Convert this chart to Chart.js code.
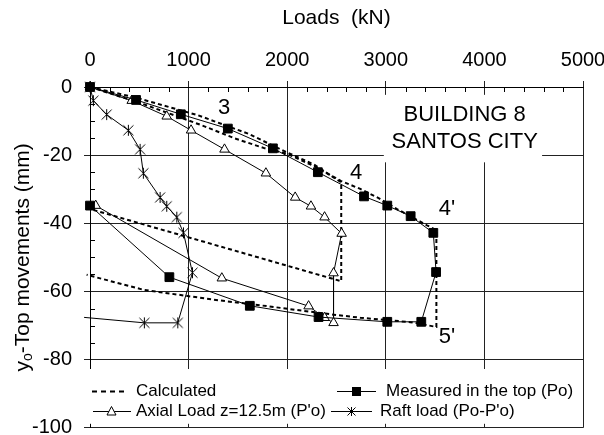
<!DOCTYPE html>
<html><head><meta charset="utf-8">
<script src="https://cdn.jsdelivr.net/npm/chart.js@4/dist/chart.umd.min.js"></script>
<style>html,body{margin:0;padding:0;background:#fff}#wrap{width:604px;height:435px;position:relative}</style>
</head><body><div id="wrap"><canvas id="c" width="604" height="435"></canvas></div>
<script>
// ---- data ----
const xTicks = [0, 1000, 2000, 3000, 4000, 5000];
const yTicks = [0, -20, -40, -60, -80, -100];

const measuredX = [0, 467, 921, 1398, 1855, 2311, 2779, 3015, 3252, 3482, 3510, 3360, 3015, 2318, 1621, 805, 0];
const measuredY = [0, -3.8, -8.0, -12.2, -18.0, -25.0, -32.1, -34.8, -37.9, -42.8, -54.3, -68.9, -68.9, -67.5, -64.2, -55.8, -34.8];

const axialX = [0, 423, 778, 1025, 1364, 1784, 2081, 2241, 2379, 2552, 2470, 2470, 2379, 2217, 1337, 58];
const axialY = [0, -4.0, -8.6, -12.7, -18.3, -25.3, -32.4, -35.0, -38.2, -43.0, -54.6, -69.2, -67.7, -64.3, -56.1, -34.8];

const raftX = [0, 34, 169, 389, 508, 541, 711, 778, 880, 948, 1039, 890, 551, -60];
const raftY = [0, -4.0, -8.1, -12.7, -18.3, -25.3, -32.4, -35.0, -38.2, -42.8, -54.5, -69.2, -69.2, -67.6];

const calc1X = [0, 450, 1096, 1604, 2000, 2268, 2548, 2548, 0];
const calc1Y = [0, -3.0, -8.3, -13.7, -19.2, -22.7, -28.0, -57.0, -35.8];

const calc2X = [0, 500, 1130, 1470, 1774, 2000, 2270, 2548, 2741, 2927, 3114, 3418, 3513, 3513, 3250, 2741, 2470, 1794, 1252, 541, -34];
const calc2Y = [0, -4.6, -11.2, -15.1, -18.0, -19.6, -23.2, -27.6, -29.9, -32.6, -35.8, -40.6, -42.0, -70.4, -69.0, -67.7, -66.8, -64.3, -62.4, -59.5, -55.1];

const seriesNames = ['Calculated', 'Measured in the top (Po)', "Axial Load z=12.5m (P'o)", "Raft load (Po-P'o)"];
const titleLines = ['BUILDING 8', 'SANTOS CITY'];
const stageLabels = ['3', '4', "4'", "5'"];
const stageAt = [[1360, -6.2], [2700, -25.1], [3621, -35.8], [3621, -73.4]];
const titleAt = [[3800, -8.1], [3800, -16.2]];

// ---- styling ----
const FONT = "'Liberation Sans', Arial, Helvetica, sans-serif";
const pts = (xs, ys) => xs.map((x, i) => ({ x: x, y: ys[i] }));

function makeStar(h) {
  const s = 2 * h + 3;
  const c = document.createElement('canvas');
  c.width = s; c.height = s;
  const g = c.getContext('2d');
  const m = s / 2;
  g.strokeStyle = '#000'; g.lineWidth = 1;
  g.beginPath();
  g.moveTo(m - h, m - h); g.lineTo(m + h, m + h);
  g.moveTo(m + h, m - h); g.lineTo(m - h, m + h);
  g.moveTo(m, m - h - 0.5); g.lineTo(m, m + h + 0.5);
  g.stroke();
  return c;
}
const star = makeStar(5);
const starSmall = makeStar(4);

const CLIP = { left: 8, top: 8, right: 8, bottom: 8 };
const lineBase = { showLine: true, borderColor: '#000', borderWidth: 1, clip: CLIP, tension: 0 };

const datasets = [
  Object.assign({}, lineBase, {
    label: seriesNames[1], data: pts(measuredX, measuredY),
    pointStyle: 'rect', pointRadius: 6.2, backgroundColor: '#000', pointBorderColor: '#000', pointBorderWidth: 1
  }),
  Object.assign({}, lineBase, {
    label: seriesNames[2], data: pts(axialX, axialY),
    pointStyle: 'triangle', pointRadius: 5.5, backgroundColor: '#fff', pointBackgroundColor: '#fff', pointBorderColor: '#000', pointBorderWidth: 1
  }),
  Object.assign({}, lineBase, {
    label: seriesNames[3], data: pts(raftX, raftY),
    pointStyle: star, pointRadius: raftX.map(v => v < 0 ? 0 : 5)
  }),
  Object.assign({}, lineBase, {
    label: seriesNames[0], data: pts(calc1X, calc1Y),
    borderWidth: 2, borderDash: [4, 3], pointRadius: 0
  }),
  Object.assign({}, lineBase, {
    label: seriesNames[0], data: pts(calc2X, calc2Y),
    borderWidth: 2, borderDash: [4, 3], pointRadius: 0
  })
];

const decor = {
  id: 'decor',
  beforeDatasetsDraw(chart) {
    const ctx = chart.ctx, a = chart.chartArea, xs = chart.scales.x, ys = chart.scales.y;
    ctx.save();
    ctx.strokeStyle = '#000'; ctx.lineWidth = 1;
    ctx.beginPath();
    for (let v = 200; v < 5000; v += 200) {
      if (v % 1000 === 0) continue;
      const p = Math.round(xs.getPixelForValue(v)) + 0.5;
      ctx.moveTo(p, a.top); ctx.lineTo(p, a.top + 5);
    }
    for (let v = -5; v > -100; v -= 5) {
      if (v % 20 === 0) continue;
      const p = Math.round(ys.getPixelForValue(v)) + 0.5;
      ctx.moveTo(a.left, p); ctx.lineTo(a.left + 5, p);
    }
    ctx.stroke();
    ctx.restore();
  },
  afterDatasetsDraw(chart) {
    const ctx = chart.ctx, a = chart.chartArea, xs = chart.scales.x, ys = chart.scales.y;
    const X = v => xs.getPixelForValue(v), Y = v => ys.getPixelForValue(v);
    ctx.save();
    // title box
    ctx.fillStyle = '#fff';
    ctx.fillRect(X(2980), Y(-2.3), X(4585) - X(2980), Y(-22.1) - Y(-2.3));
    ctx.fillStyle = '#000';
    ctx.font = '22px ' + FONT;
    ctx.textAlign = 'center'; ctx.textBaseline = 'middle';
    titleLines.forEach((t, i) => ctx.fillText(t, X(titleAt[i][0]), Y(titleAt[i][1])));
    stageLabels.forEach((t, i) => ctx.fillText(t, X(stageAt[i][0]), Y(stageAt[i][1])));

    // legend box
    const top = Math.round(Y(-82.6));
    ctx.fillStyle = '#fff';
    ctx.fillRect(a.left - 12, top, a.right - 1 - (a.left - 12), a.bottom - 4 - top);
    ctx.fillStyle = '#000';
    ctx.strokeStyle = '#000';
    ctx.font = '17px ' + FONT;
    ctx.textAlign = 'left'; ctx.textBaseline = 'middle';
    const r1 = 391.5, r2 = 411.5;
    // calculated
    ctx.save();
    ctx.lineWidth = 2; ctx.setLineDash([5, 4]);
    ctx.beginPath(); ctx.moveTo(92, r1); ctx.lineTo(128, r1); ctx.stroke();
    ctx.restore();
    ctx.fillText(seriesNames[0], 136, r1);
    // measured
    ctx.lineWidth = 1;
    ctx.beginPath(); ctx.moveTo(337, r1); ctx.lineTo(376, r1); ctx.stroke();
    ctx.fillRect(352, r1 - 4.5, 9, 9);
    ctx.fillText(seriesNames[1], 386, r1);
    // axial
    ctx.beginPath(); ctx.moveTo(93, r2); ctx.lineTo(131, r2); ctx.stroke();
    ctx.beginPath();
    ctx.moveTo(111.5, r2 - 5); ctx.lineTo(116, r2 + 3.5); ctx.lineTo(107, r2 + 3.5); ctx.closePath();
    ctx.fillStyle = '#fff'; ctx.fill(); ctx.stroke();
    ctx.fillStyle = '#000';
    ctx.fillText(seriesNames[2], 136, r2);
    // raft
    ctx.beginPath(); ctx.moveTo(331, r2); ctx.lineTo(372, r2); ctx.stroke();
    ctx.drawImage(starSmall, 351.5 - starSmall.width / 2, r2 - starSmall.height / 2);
    ctx.fillText(seriesNames[3], 380, r2);
    ctx.restore();
  },
  afterDraw(chart) {
    const ctx = chart.ctx, a = chart.chartArea;
    ctx.save();
    ctx.translate(23, (a.top + a.bottom) / 2);
    ctx.rotate(-Math.PI / 2);
    ctx.fillStyle = '#000';
    ctx.textBaseline = 'middle';
    const big = '21px ' + FONT, small = '14px ' + FONT;
    const rest = '-Top movements (mm)';
    ctx.font = big; const wy = ctx.measureText('y').width, wr = ctx.measureText(rest).width;
    ctx.font = small; const wo = ctx.measureText('o').width;
    let x0 = -(wy + wo + wr) / 2;
    ctx.textAlign = 'left';
    ctx.font = big; ctx.fillText('y', x0, 0);
    ctx.font = small; ctx.fillText('o', x0 + wy, 5);
    ctx.font = big; ctx.fillText(rest, x0 + wy + wo, 0);
    ctx.restore();
  }
};

new Chart(document.getElementById('c').getContext('2d'), {
  type: 'scatter',
  data: { datasets: datasets },
  options: {
    responsive: false,
    animation: false,
    events: [],
    layout: { padding: { top: 0, right: 21, bottom: 4, left: 0 } },
    plugins: { legend: { display: false }, tooltip: { enabled: false } },
    scales: {
      x: {
        type: 'linear', position: 'top', min: 0, max: 5000,
        afterBuildTicks: s => { s.ticks = xTicks.map(v => ({ value: v })); },
        afterFit: s => { s.height = 87; s.paddingLeft = 0; s.paddingRight = 0; },
        ticks: { color: '#000', font: { family: FONT, size: 20 }, padding: 9, maxRotation: 0, autoSkip: false, callback: v => String(v) },
        grid: { color: '#222', lineWidth: 1, tickLength: 6, drawTicks: true },
        border: { color: '#000', width: 1 },
        title: { display: true, text: 'Loads  (kN)', color: '#000', font: { family: FONT, size: 21 }, padding: { top: 6, bottom: 0 } }
      },
      y: {
        type: 'linear', position: 'left', min: -100, max: 0,
        afterBuildTicks: s => { s.ticks = yTicks.map(v => ({ value: v })); },
        afterFit: s => { s.width = 90; s.paddingTop = 0; s.paddingBottom = 0; },
        ticks: { color: '#000', font: { family: FONT, size: 20 }, padding: 12, autoSkip: false, callback: v => String(v) },
        grid: { color: '#222', lineWidth: 1, tickLength: 6, drawTicks: true },
        border: { color: '#000', width: 1 }
      }
    }
  },
  plugins: [decor]
});
</script>
</body></html>
